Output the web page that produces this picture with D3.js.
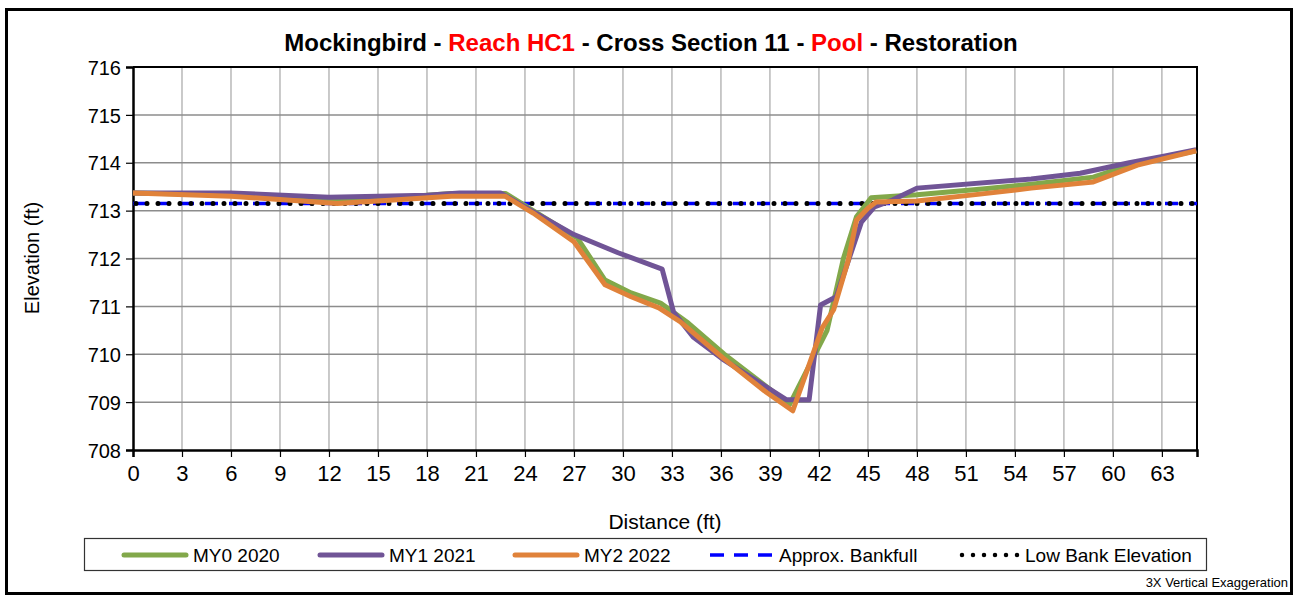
<!DOCTYPE html>
<html>
<head>
<meta charset="utf-8">
<script src="https://cdn.jsdelivr.net/npm/d3@7"></script>
<style>
  body { margin: 0; background: #fff; }
  text { font-family: "Liberation Sans", Arial, sans-serif; }
</style>
</head>
<body>
<script>

// cross section survey points, distance (ft) / elevation (ft)
var my0Dist = [0, 6, 12, 15, 19.5, 22.8, 24.5, 27.2, 28.9, 30.5, 32.3, 34, 36.2, 38.5, 40.2, 42.5, 43.5, 44.3, 45.2, 48, 52, 55, 58.8, 61.5, 65.1];
var my0Elev = [713.37, 713.33, 713.25, 713.25, 713.36, 713.36, 713.0, 712.43, 711.55, 711.28, 711.07, 710.65, 710.0, 709.4, 708.95, 710.5, 712.0, 712.87, 713.27, 713.33, 713.45, 713.55, 713.7, 714.0, 714.25];

var my1Dist = [0, 6, 12, 18, 20, 22.5, 24.5, 27, 29.7, 32.4, 33.1, 34.3, 36.1, 40.0, 41.4, 42.1, 43.06, 44.6, 45.4, 46.5, 48, 55, 58, 61, 63.2, 65.1];
var my1Elev = [713.37, 713.37, 713.28, 713.32, 713.37, 713.37, 712.98, 712.5, 712.12, 711.78, 710.88, 710.36, 709.9, 709.05, 709.05, 711.03, 711.2, 712.76, 713.08, 713.22, 713.47, 713.66, 713.78, 714.0, 714.14, 714.27];

var my2Dist = [0, 6, 12.5, 15, 19.5, 22.8, 24.5, 27, 28.9, 30.5, 32.2, 33.5, 36.1, 38.8, 40.4, 42.2, 42.9, 43.8, 44.3, 45.0, 45.5, 48, 52, 55, 58.8, 61.5, 65.1];
var my2Elev = [713.37, 713.3, 713.15, 713.2, 713.3, 713.3, 712.95, 712.35, 711.45, 711.2, 710.97, 710.68, 709.93, 709.2, 708.82, 710.55, 710.93, 711.97, 712.8, 713.05, 713.18, 713.2, 713.35, 713.47, 713.6, 713.95, 714.25];

var bankfullElev = 713.15;
var lowBankElev = 713.15;

var xTicks = [0, 3, 6, 9, 12, 15, 18, 21, 24, 27, 30, 33, 36, 39, 42, 45, 48, 51, 54, 57, 60, 63];
var yTicks = [708, 709, 710, 711, 712, 713, 714, 715, 716];

var seriesNames = ["MY0 2020", "MY1 2021", "MY2 2022", "Approx. Bankfull", "Low Bank Elevation"];

var W = 1297, H = 596;
var pLeft = 133, pRight = 1197, pTop = 67, pBottom = 450;

var svg = d3.select("body").append("svg")
  .attr("width", W)
  .attr("height", H);

// outer frame
svg.append("rect")
  .attr("x", 6.5).attr("y", 9.5)
  .attr("width", 1285).attr("height", 584)
  .attr("fill", "#fff")
  .attr("stroke", "#000")
  .attr("stroke-width", 3);

var x = d3.scaleLinear().domain([0, 65.15]).range([pLeft, pRight]);
var y = d3.scaleLinear().domain([708, 716]).range([pBottom, pTop]);

// grid
svg.append("g").selectAll("line")
  .data(xTicks.slice(1))
  .enter()
  .append("line")
  .attr("x1", function (d) { return x(d); })
  .attr("x2", function (d) { return x(d); })
  .attr("y1", pTop).attr("y2", pBottom)
  .attr("stroke", "#b8b8b8")
  .attr("stroke-width", 1.5);

svg.append("g").selectAll("line")
  .data(yTicks.slice(1, -1))
  .enter()
  .append("line")
  .attr("x1", pLeft).attr("x2", pRight)
  .attr("y1", function (d) { return y(d); })
  .attr("y2", function (d) { return y(d); })
  .attr("stroke", "#8c8c8c")
  .attr("stroke-width", 1.5);

// plot border (top / right)
svg.append("path")
  .attr("d", "M" + pLeft + "," + pTop + "H" + pRight + "V" + pBottom)
  .attr("fill", "none")
  .attr("stroke", "#000")
  .attr("stroke-width", 2);

// axes
var yAxis = svg.append("g")
  .attr("transform", "translate(" + pLeft + ",0)")
  .call(d3.axisLeft(y).tickValues(yTicks).tickSize(7).tickPadding(5).tickFormat(d3.format("d")));

var xAxis = svg.append("g")
  .attr("transform", "translate(0," + pBottom + ")")
  .call(d3.axisBottom(x).tickValues(xTicks).tickSize(7).tickPadding(8).tickFormat(d3.format("d")));

[yAxis, xAxis].forEach(function (a) {
  a.select(".domain").attr("stroke", "#000").attr("stroke-width", 2.5);
  a.selectAll(".tick line").attr("stroke", "#000").attr("stroke-width", 1.2);
  a.selectAll(".tick text").attr("fill", "#000");
});
yAxis.selectAll(".tick text").style("font-size", "20px").attr("dy", "0.36em");
xAxis.selectAll(".tick text").style("font-size", "22px");

// reference lines
svg.append("line")
  .attr("x1", x(0)).attr("x2", x(65.15))
  .attr("y1", y(bankfullElev)).attr("y2", y(bankfullElev))
  .attr("stroke", "#0000ff")
  .attr("stroke-width", 3.5)
  .attr("stroke-dasharray", "13 11");

svg.append("line")
  .attr("x1", x(0) + 3).attr("x2", x(65.15))
  .attr("y1", y(lowBankElev)).attr("y2", y(lowBankElev))
  .attr("stroke", "#000")
  .attr("stroke-width", 5)
  .attr("stroke-linecap", "round")
  .attr("stroke-dasharray", "0 11");

// survey lines
var line = d3.line()
  .x(function (d) { return x(d[0]); })
  .y(function (d) { return y(d[1]); });

var series = [
  { dist: my0Dist, elev: my0Elev, color: "#82a84a" },
  { dist: my1Dist, elev: my1Elev, color: "#705496" },
  { dist: my2Dist, elev: my2Elev, color: "#e0823a" }
];

svg.append("g").selectAll("path")
  .data(series)
  .enter()
  .append("path")
  .attr("d", function (s) { return line(d3.zip(s.dist, s.elev)); })
  .attr("fill", "none")
  .attr("stroke", function (s) { return s.color; })
  .attr("stroke-width", 5)
  .attr("stroke-linejoin", "round");

// title
var title = svg.append("text")
  .attr("x", 651).attr("y", 51)
  .attr("text-anchor", "middle")
  .style("font-size", "24px")
  .style("font-weight", "bold");
var titleParts = [["Mockingbird - ", "#000"], ["Reach HC1", "#ff0000"], [" - Cross Section 11 - ", "#000"], ["Pool", "#ff0000"], [" - Restoration", "#000"]];
titleParts.forEach(function (p) {
  title.append("tspan").attr("fill", p[1]).text(p[0]);
});

// axis titles
svg.append("text")
  .attr("transform", "translate(39,258) rotate(-90)")
  .attr("text-anchor", "middle")
  .style("font-size", "20px")
  .text("Elevation (ft)");

svg.append("text")
  .attr("x", 665).attr("y", 529)
  .attr("text-anchor", "middle")
  .style("font-size", "21px")
  .text("Distance (ft)");

// legend
svg.append("rect")
  .attr("x", 84.5).attr("y", 538.5)
  .attr("width", 1122).attr("height", 32)
  .attr("fill", "#fff")
  .attr("stroke", "#333")
  .attr("stroke-width", 1.2);

var legendX = [124, 320, 515, 710, 962];
var ly = 555;
var leg = svg.append("g").selectAll("g")
  .data(seriesNames)
  .enter()
  .append("g")
  .attr("transform", function (d, i) { return "translate(" + legendX[i] + "," + ly + ")"; });

leg.append("line")
  .attr("x1", 0).attr("x2", function (d, i) { return i == 4 ? 56 : 62; })
  .attr("stroke", function (d, i) {
    return i < 3 ? series[i].color : (i == 3 ? "#0000ff" : "#000");
  })
  .attr("stroke-width", function (d, i) { return i < 3 ? 5 : (i == 3 ? 3.5 : 4.5); })
  .attr("stroke-linecap", function (d, i) { return i == 3 ? "butt" : "round"; })
  .attr("stroke-dasharray", function (d, i) {
    return i == 3 ? "14 10" : (i == 4 ? "0 11" : null);
  });

leg.append("text")
  .attr("x", function (d, i) { return i == 4 ? 63 : 69; })
  .attr("dy", "0.35em")
  .style("font-size", "19px")
  .text(function (d) { return d; });

svg.append("text")
  .attr("x", 1288).attr("y", 587)
  .attr("text-anchor", "end")
  .style("font-size", "13px")
  .text("3X Vertical Exaggeration");

</script>
</body>
</html>
